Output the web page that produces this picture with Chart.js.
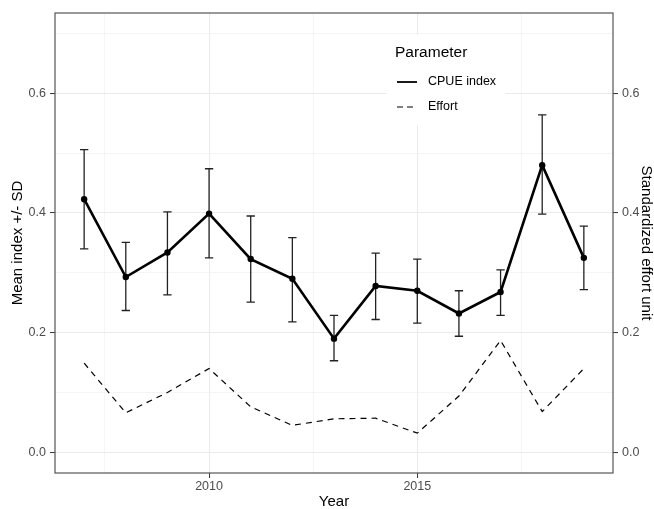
<!DOCTYPE html>
<html>
<head>
<meta charset="utf-8">
<script src="https://cdn.jsdelivr.net/npm/chart.js@4.4.1/dist/chart.umd.min.js"></script>
<style>
  html, body { margin: 0; padding: 0; background: #fff; }
</style>
</head>
<body>
<canvas id="cpue-chart" width="654" height="509"></canvas>
<script>
// values
var years     = [2007, 2008, 2009, 2010, 2011, 2012, 2013, 2014, 2015, 2016, 2017, 2018, 2019];
var cpueMean  = [0.423, 0.293, 0.334, 0.399, 0.323, 0.290, 0.190, 0.278, 0.270, 0.232, 0.268, 0.480, 0.325];
var cpueUpper = [0.506, 0.351, 0.402, 0.474, 0.395, 0.359, 0.229, 0.333, 0.323, 0.270, 0.305, 0.564, 0.378];
var cpueLower = [0.340, 0.237, 0.263, 0.325, 0.251, 0.218, 0.153, 0.222, 0.216, 0.194, 0.229, 0.398, 0.272];
var effort    = [0.149, 0.066, 0.100, 0.140, 0.076, 0.045, 0.056, 0.057, 0.032, 0.094, 0.187, 0.068, 0.140];

var xMajor = [2010, 2015];
var xMinor = [2007.5, 2012.5, 2017.5];
var yMajor = [0, 0.2, 0.4, 0.6];
var yMinor = [0.1, 0.3, 0.5, 0.7];

var FONT = "'Liberation Sans', Arial, sans-serif";

function isMajor(list, v) {
  return list.some(function (m) { return Math.abs(m - v) < 1e-6; });
}

var extras = {
  id: 'extras',
  beforeDatasetsDraw: function (chart) {
    var ctx = chart.ctx, xs = chart.scales.x, ys = chart.scales.y;
    ctx.save();
    ctx.strokeStyle = '#222';
    ctx.lineWidth = 1.3;
    for (var i = 0; i < years.length; i++) {
      var xc = xs.getPixelForValue(years[i]);
      var x0 = xs.getPixelForValue(years[i] - 0.1);
      var x1 = xs.getPixelForValue(years[i] + 0.1);
      var yt = ys.getPixelForValue(cpueUpper[i]);
      var yb = ys.getPixelForValue(cpueLower[i]);
      ctx.beginPath();
      ctx.moveTo(xc, yt); ctx.lineTo(xc, yb);
      ctx.moveTo(x0, yt); ctx.lineTo(x1, yt);
      ctx.moveTo(x0, yb); ctx.lineTo(x1, yb);
      ctx.stroke();
    }
    ctx.restore();
  },
  afterDraw: function (chart) {
    var ctx = chart.ctx, a = chart.chartArea;
    ctx.save();
    // panel border
    ctx.strokeStyle = '#555';
    ctx.lineWidth = 1.2;
    ctx.strokeRect(a.left, a.top, a.right - a.left, a.bottom - a.top);

    // legend
    ctx.fillStyle = '#fff';
    ctx.fillRect(387, 35, 118, 90);
    ctx.fillStyle = '#000';
    ctx.textBaseline = 'middle';
    ctx.textAlign = 'left';
    ctx.font = '15.5px ' + FONT;
    ctx.fillText('Parameter', 395, 53);
    ctx.font = '12.5px ' + FONT;
    ctx.fillText('CPUE index', 428, 82);
    ctx.fillText('Effort', 428, 107);
    ctx.strokeStyle = '#000';
    ctx.lineWidth = 1.8;
    ctx.beginPath(); ctx.moveTo(397, 82); ctx.lineTo(417, 82); ctx.stroke();
    ctx.lineWidth = 1.2;
    ctx.setLineDash([6, 4]);
    ctx.beginPath(); ctx.moveTo(397, 107); ctx.lineTo(417, 107); ctx.stroke();
    ctx.setLineDash([]);

    // axis titles
    ctx.font = '15px ' + FONT;
    ctx.textAlign = 'center';
    ctx.fillText('Year', (a.left + a.right) / 2, 502);
    var midY = (a.top + a.bottom) / 2;
    ctx.save();
    ctx.translate(18, midY);
    ctx.rotate(-Math.PI / 2);
    ctx.fillText('Mean index +/- SD', 0, 0);
    ctx.restore();
    ctx.save();
    ctx.translate(646, midY);
    ctx.rotate(Math.PI / 2);
    ctx.fillText('Standardized effort unit', 0, 0);
    ctx.restore();
    ctx.restore();
  }
};

function yAxis(pos, width) {
  return {
    type: 'linear',
    position: pos,
    min: -0.0346,
    max: 0.7343,
    afterBuildTicks: function (s) {
      var list = pos === 'left' ? yMajor.concat(yMinor) : yMajor;
      s.ticks = list.sort().map(function (v) { return { value: v }; });
    },
    afterFit: function (s) { s.width = width; },
    border: { display: false },
    grid: {
      drawOnChartArea: pos === 'left',
      tickLength: 5,
      color: function (c) { return isMajor(yMajor, c.tick.value) ? '#ebebeb' : '#f3f3f3'; },
      lineWidth: function (c) { return isMajor(yMajor, c.tick.value) ? 1.1 : 0.8; },
      tickColor: function (c) { return isMajor(yMajor, c.tick.value) ? '#333' : 'rgba(0,0,0,0)'; },
      tickWidth: 1
    },
    ticks: {
      autoSkip: false,
      padding: 4,
      color: '#4d4d4d',
      font: { family: FONT, size: 12.5 },
      callback: function (v) { return isMajor(yMajor, v) ? v.toFixed(1) : ''; }
    }
  };
}

new Chart(document.getElementById('cpue-chart'), {
  type: 'line',
  data: {
    datasets: [{
      label: 'CPUE index',
      data: years.map(function (y, i) { return { x: y, y: cpueMean[i] }; }),
      borderColor: '#000',
      backgroundColor: '#000',
      borderWidth: 2.6,
      pointRadius: 3.2,
      pointBackgroundColor: '#000',
      pointBorderWidth: 0,
      tension: 0,
      yAxisID: 'y'
    }, {
      label: 'Effort',
      data: years.map(function (y, i) { return { x: y, y: effort[i] }; }),
      borderColor: '#000',
      borderWidth: 1.2,
      borderDash: [6, 5],
      pointRadius: 0,
      tension: 0,
      yAxisID: 'y'
    }]
  },
  options: {
    responsive: false,
    animation: false,
    devicePixelRatio: 1,
    layout: { padding: { top: 13, left: 0, right: 0, bottom: 0 } },
    plugins: { legend: { display: false }, tooltip: { enabled: false } },
    scales: {
      x: {
        type: 'linear',
        min: 2006.3,
        max: 2019.7,
        afterBuildTicks: function (s) {
          s.ticks = xMajor.concat(xMinor).sort().map(function (v) { return { value: v }; });
        },
        afterFit: function (s) { s.height = 36; },
        border: { display: false },
        grid: {
          tickLength: 5,
          color: function (c) { return isMajor(xMajor, c.tick.value) ? '#ebebeb' : '#f3f3f3'; },
          lineWidth: function (c) { return isMajor(xMajor, c.tick.value) ? 1.1 : 0.8; },
          tickColor: function (c) { return isMajor(xMajor, c.tick.value) ? '#333' : 'rgba(0,0,0,0)'; },
          tickWidth: 1
        },
        ticks: {
          autoSkip: false,
          maxRotation: 0,
          padding: 1,
          color: '#4d4d4d',
          font: { family: FONT, size: 12.5 },
          callback: function (v) { return isMajor(xMajor, v) ? String(v) : ''; }
        }
      },
      y: yAxis('left', 55),
      y2: yAxis('right', 41)
    }
  },
  plugins: [extras]
});
</script>
</body>
</html>
